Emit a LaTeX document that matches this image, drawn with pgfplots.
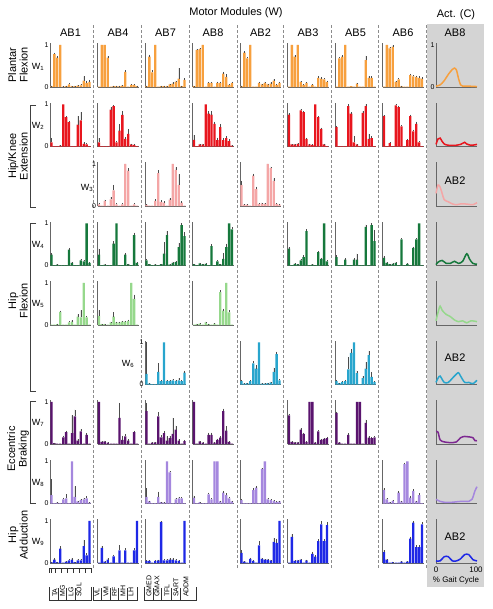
\documentclass[border=0pt]{standalone}
\usepackage{fontspec}
\setmainfont{Liberation Sans}
\setsansfont{Liberation Sans}
\usepackage{pgfplots}
\pgfplotsset{compat=1.18}
\definecolor{cA}{RGB}{247,160,62}
\definecolor{cB}{RGB}{232,22,30}
\definecolor{cC}{RGB}{244,166,166}
\definecolor{cD}{RGB}{22,120,60}
\definecolor{cE}{RGB}{150,216,140}
\definecolor{cF}{RGB}{40,165,205}
\definecolor{cG}{RGB}{90,20,110}
\definecolor{cGl}{RGB}{125,40,145}
\definecolor{cH}{RGB}{165,135,222}
\definecolor{cI}{RGB}{30,40,230}
\definecolor{panel}{RGB}{212,212,212}
\pgfplotsset{
  barax/.style={scale only axis, width=41bp, height=43.7bp, xmin=-0.5, xmax=13.5, ymin=0, ymax=1.04,
    axis x line*=bottom, axis y line*=left, axis line style={line width=0.5pt, black!60},
    xtick=\empty, ytick=\empty, clip=false, anchor=south west},
  actax/.style={scale only axis, width=41bp, height=43.7bp, xmin=0, xmax=100, ymin=0, ymax=1.04,
    axis x line*=bottom, axis y line*=left, axis line style={line width=0.5pt, black!60},
    xtick=\empty, ytick=\empty, clip=false, anchor=south west},
  first/.style={ytick={0,1}, major tick length=0pt, /pgf/number format/assume math mode=true,
    yticklabel style={font=\fontsize{7}{7}\selectfont, inner sep=1.2pt}},
}
\newcommand{\B}[5][]{%
  \begin{axis}[barax, at={({(50+47.5*#2)*1bp},{-(87+59.5*#3)*1bp})}, #1]
    \addplot[ybar, bar width=0.8, fill=#4, draw=none,
      error bars/.cd, y dir=plus, y explicit, error bar style={line width=0.35pt, black!70}, error mark=none]
      table[row sep=\\, header=false, x expr=\coordindex, y index=0, y error index=1] {#5};
  \end{axis}}
\newcommand{\A}[4][]{%
  \begin{axis}[actax, at={({436*1bp},{-(87+59.5*#2)*1bp})}, #1]
    \addplot[#3, line width=1.5bp, smooth, tension=0.5] coordinates {#4};
  \end{axis}}
\begin{document}
\begin{tikzpicture}
\path[use as bounding box] (0,0) rectangle (493bp,-609bp);
\begin{scope}[x=1bp,y=-1bp]
\fill[panel] (427,24) rectangle (484,587);
\foreach \xx in {93,141,189,237,283,331,378,426}
  \draw[black!45, line width=0.45pt, dash pattern=on 2.5bp off 2.5bp] (\xx,25) -- (\xx,568);
\end{scope}
% ---------- W1 ----------
\B[first]{0}{0}{cA}{0.02 0.01\\0.78 0.03\\0.70 0.03\\1.0 0\\0.01 0.01\\0.02 0.01\\0.06 0.04\\0.02 0.01\\0.02 0.01\\0.03 0.02\\0.04 0.02\\0.15 0.1\\0.10 0.05\\0.12 0.05\\}
\B{1}{0}{cA}{0.01 0\\1.0 0\\1.0 0\\0.70 0.03\\0.01 0\\0.02 0.01\\0.02 0.01\\0.02 0.01\\0.03 0.01\\0.36 0.04\\0.01 0\\0.05 0.02\\0.05 0.02\\0.02 0.01\\}
\B{2}{0}{cA}{0.02 0.01\\0.72 0.05\\0.35 0.05\\1.0 0\\0.01 0\\0.02 0.01\\0.02 0.01\\0.02 0.01\\0.06 0.02\\0.08 0.03\\0.12 0.03\\0.20 0.25\\0.02 0.01\\0.17 0.04\\}
\B{3}{0}{cA}{0.02 0.01\\0.88 0.03\\0.90 0.03\\1.0 0\\0.01 0\\0.10 0.02\\0.10 0.02\\0.01 0\\0.10 0.03\\0.10 0.03\\0.32 0.04\\0.24 0.06\\0.05 0.02\\0.10 0.03\\}
\B{4}{0}{cA}{0.02 0.01\\0.82 0.03\\0.68 0.03\\1.0 0\\0.01 0\\0.01 0\\0.10 0.03\\0.06 0.02\\0.10 0.03\\0.06 0.02\\0.08 0.03\\0.15 0.04\\0.05 0.02\\0.10 0.03\\}
\B{5}{0}{cA}{0.01 0\\1.0 0\\0.72 0.03\\1.0 0\\0.12 0.02\\0.05 0.02\\0.10 0.02\\0.01 0\\0.05 0.02\\0.01 0\\0.22 0.03\\0.20 0.03\\0.18 0.03\\0.12 0.03\\}
\B{6}{0}{cA}{0.01 0\\0.68 0.03\\0.72 0.03\\1.0 0\\0.01 0\\0.02 0\\0.01 0\\0.08 0.02\\0.01 0\\0.01 0\\0.64 0.1\\0.22 0.03\\0.22 0.03\\0.01 0\\}
\B{7}{0}{cA}{0.01 0\\1.0 0\\0.92 0.03\\0.96 0.03\\0.12 0.02\\0.18 0.03\\0.02 0.01\\0.01 0\\0.01 0\\0.28 0.03\\0.25 0.03\\0.24 0.03\\0.22 0.03\\0.20 0.03\\}
% ---------- W2 ----------
\B[first]{0}{1}{cB}{0.10 0.1\\0.01 0\\0.01 0\\0.02 0.01\\1.0 0\\0.70 0.03\\0.58 0.03\\0.01 0\\0.01 0\\0.52 0.2\\0.62 0.2\\0.06 0.04\\0.05 0.03\\0.01 0\\}
\B{1}{1}{cB}{0.10 0.1\\0.01 0\\0.01 0\\0.01 0\\0.88 0.05\\0.96 0.03\\0.10 0.03\\0.38 0.15\\0.75 0.1\\0.18 0.05\\0.30 0.12\\0.05 0.02\\0.04 0.02\\0.01 0\\}
\B{3}{1}{cB}{0.16 0.11\\0.01 0\\0.05 0.02\\0.05 0.02\\1.0 0\\0.78 0.06\\0.76 0.08\\0.54 0.05\\0.15 0.06\\0.46 0.08\\0.15 0.05\\0.20 0.04\\0.13 0.04\\0.02 0.01\\}
\B{5}{1}{cB}{0.76 0.03\\0.05 0.01\\0.05 0.01\\0.06 0.02\\0.86 0.03\\0.82 0.03\\0.18 0.03\\0.05 0.01\\0.04 0.01\\1.0 0\\0.70 0.03\\0.42 0.03\\0.05 0.02\\0.01 0\\}
\B{6}{1}{cB}{0.46 0.03\\0.01 0\\0.01 0\\0.01 0\\0.96 0.04\\0.78 0.04\\0.10 0.15\\0.05 0.02\\0.01 0\\0.80 0.04\\0.96 0.04\\0.18 0.12\\0.20 0.04\\0.01 0\\}
\B{7}{1}{cB}{0.72 0.03\\0.01 0\\0.08 0.02\\0.01 0\\0.98 0.02\\0.94 0.03\\0.48 0.03\\0.01 0\\0.15 0.03\\0.72 0.04\\0.36 0.04\\0.54 0.05\\0.10 0.03\\0.01 0\\}
% ---------- W3 ----------
\B[first]{1}{2}{cC}{0.04 0.02\\0.01 0\\0.12 0.03\\0.01 0\\0.16 0.05\\0.37 0.13\\0.04 0.02\\0.01 0\\0.04 0.02\\1.0 0\\0.84 0.06\\0.01 0\\0.04 0.02\\0.01 0\\}
\B{2}{2}{cC}{0.03 0.01\\0.01 0\\0.01 0\\0.12 0.04\\0.78 0.07\\0.10 0.04\\0.08 0.03\\0.01 0\\0.15 0.03\\1.0 0\\0.86 0.06\\0.50 0.25\\0.08 0.03\\0.01 0\\}
\B{4}{2}{cC}{0.50 0.1\\0.03 0.01\\0.03 0.01\\0.01 0\\0.72 0.05\\0.40 0.06\\0.05 0.02\\0.06 0.02\\0.05 0.02\\1.0 0\\0.90 0.04\\0.60 0.06\\0.05 0.02\\0.03 0.01\\}
% ---------- W4 ----------
\B[first]{0}{3}{cD}{0.26 0.03\\0.01 0\\0.02 0.01\\0.01 0\\0.01 0\\0.01 0\\0.38 0.04\\0.06 0.02\\0.01 0\\0.01 0\\0.12 0.03\\0.10 0.03\\1.0 0\\0.06 0.02\\}
\B{1}{3}{cD}{0.26 0.14\\0.01 0\\0.02 0.01\\0.01 0\\0.01 0\\0.52 0.06\\1.0 0\\0.01 0\\0.01 0\\0.26 0.04\\0.03 0.01\\0.01 0\\0.72 0.06\\0.06 0.02\\}
\B{2}{3}{cD}{0.12 0.04\\0.03 0.01\\0.01 0\\0.02 0.01\\0.01 0\\0.03 0.01\\0.28 0.27\\0.72 0.1\\0.02 0.01\\0.06 0.03\\0.08 0.03\\0.44 0.1\\0.96 0.04\\0.70 0.1\\}
\B{3}{3}{cD}{0.03 0.01\\0.01 0\\0.05 0.02\\0.03 0.01\\0.04 0.01\\0.01 0\\0.46 0.05\\0.01 0\\0.10 0.03\\0.03 0.01\\0.16 0.14\\0.44 0.08\\1.0 0\\0.86 0.05\\}
\B{5}{3}{cD}{0.40 0.03\\0.01 0\\0.04 0.01\\0.03 0.01\\0.12 0.03\\0.20 0.04\\0.82 0.04\\0.01 0\\0.02 0.01\\0.01 0\\0.32 0.03\\0.16 0.03\\1.0 0\\0.10 0.03\\}
\B{6}{3}{cD}{0.20 0.04\\0.01 0\\0.01 0\\0.14 0.03\\0.01 0\\0.01 0\\0.14 0.03\\0.14 0.14\\0.01 0\\0.01 0\\0.92 0.05\\0.01 0\\0.96 0.04\\0.58 0.27\\}
\B{7}{3}{cD}{0.18 0.04\\0.06 0.02\\0.03 0.01\\0.04 0.01\\0.06 0.02\\0.01 0\\0.62 0.03\\0.01 0\\0.04 0.01\\0.01 0\\0.42 0.03\\0.62 0.03\\1.0 0\\0.01 0\\}
% ---------- W5 ----------
\B[first]{0}{4}{cE}{0.01 0\\0.01 0\\0.02 0.01\\0.31 0.03\\0.01 0\\0.01 0\\0.06 0.03\\0.08 0.03\\0.01 0\\0.20 0.05\\0.18 0.17\\1.0 0\\0.18 0.04\\0.01 0\\}
\B{1}{4}{cE}{0.22 0.13\\0.02 0.01\\0.02 0.01\\0.01 0\\0.06 0.02\\0.20 0.1\\0.06 0.02\\0.06 0.02\\0.08 0.02\\0.08 0.02\\0.10 0.03\\1.0 0\\0.62 0.1\\0.01 0\\}
\B{3}{4}{cE}{0.01 0\\0.02 0.01\\0.03 0.01\\0.01 0\\0.06 0.02\\0.02 0.01\\0.01 0\\0.03 0.01\\0.01 0\\0.78 0.05\\0.34 0.05\\1.0 0\\0.30 0.05\\0.01 0\\}
% ---------- W6 ----------
\B[first]{2}{5}{cF}{0.25 0.75\\0.02 0.01\\0.01 0\\0.01 0\\0.30 0.2\\0.08 0.03\\1.0 0\\0.08 0.03\\0.08 0.03\\0.10 0.03\\0.08 0.03\\0.10 0.05\\0.08 0.03\\0.28 0.05\\}
\B{4}{5}{cF}{0.08 0.03\\0.02 0.01\\0.03 0.01\\0.08 0.02\\0.50 0.06\\0.38 0.08\\1.0 0\\0.02 0.01\\0.02 0.01\\0.03 0.01\\0.05 0.02\\0.30 0.1\\0.72 0.06\\0.10 0.03\\}
\B{6}{5}{cF}{0.08 0.03\\0.03 0.01\\0.06 0.02\\0.08 0.03\\0.36 0.3\\0.75 0.1\\1.0 0\\0.27 0.06\\0.01 0\\0.15 0.05\\0.38 0.15\\0.70 0.1\\0.18 0.12\\0.06 0.02\\}
% ---------- W7 ----------
\B[first]{0}{6}{cG}{1.0 0\\0.02 0.01\\0.01 0\\0.01 0\\0.16 0.04\\0.28 0.04\\0.01 0\\0.26 0.42\\0.66 0.16\\0.08 0.04\\0.30 0.05\\0.01 0\\0.22 0.04\\0.01 0\\}
\B{1}{6}{cG}{1.0 0\\0.05 0.02\\0.06 0.02\\0.03 0.01\\0.01 0\\0.01 0\\0.01 0\\0.62 0.36\\0.10 0.1\\0.18 0.05\\0.08 0.03\\0.01 0\\0.28 0.04\\0.01 0\\}
\B{2}{6}{cG}{0.78 0.2\\0.01 0\\0.03 0.01\\0.04 0.01\\0.66 0.1\\0.16 0.05\\0.26 0.05\\0.08 0.1\\0.14 0.05\\0.24 0.38\\0.34 0.1\\0.08 0.04\\0.01 0\\0.07 0.03\\}
\B{3}{6}{cG}{1.0 0\\0.01 0\\0.06 0.02\\0.03 0.01\\0.01 0\\0.22 0.05\\0.22 0.05\\0.03 0.01\\0.10 0.03\\0.15 0.04\\0.78 0.06\\0.32 0.1\\0.05 0.02\\0.01 0\\}
\B{5}{6}{cG}{0.68 0.03\\0.05 0.01\\0.04 0.01\\0.04 0.01\\0.34 0.03\\0.24 0.03\\0.05 0.01\\1.0 0\\1.0 0\\0.03 0.01\\0.30 0.03\\0.10 0.02\\0.12 0.02\\0.14 0.03\\}
\B{6}{6}{cG}{0.74 0.03\\0.03 0.01\\0.01 0\\0.01 0\\0.22 0.03\\0.01 0\\0.01 0\\1.0 0\\1.0 0\\0.01 0\\0.50 0.08\\0.15 0.03\\0.14 0.03\\0.16 0.03\\}
% ---------- W8 ----------
\B[first]{0}{7}{cH}{0.20 0.38\\0.01 0\\0.02 0.01\\0.01 0\\0.10 0.04\\0.12 0.1\\0.01 0\\1.0 0\\0.16 0.25\\0.05 0.02\\0.08 0.03\\0.10 0.04\\0.12 0.05\\0.02 0.01\\}
\B{2}{7}{cH}{0.16 0.2\\0.05 0.02\\0.01 0\\0.01 0\\0.16 0.12\\0.03 0.01\\0.02 0.01\\1.0 0\\0.74 0.04\\0.01 0\\0.10 0.03\\0.12 0.03\\0.12 0.03\\0.01 0\\}
\B{3}{7}{cH}{0.14 0.05\\0.01 0\\0.03 0.01\\0.01 0\\0.01 0\\0.22 0.04\\0.10 0.03\\1.0 0\\1.0 0\\0.05 0.02\\0.26 0.04\\0.20 0.04\\0.12 0.04\\0.05 0.02\\}
\B{4}{7}{cH}{0.08 0.03\\0.01 0\\0.01 0\\0.01 0\\0.32 0.04\\0.38 0.04\\0.01 0\\0.82 0.03\\1.0 0\\0.10 0.03\\0.08 0.02\\0.06 0.02\\0.04 0.01\\0.05 0.01\\}
\B{7}{7}{cH}{0.32 0.04\\0.10 0.03\\0.03 0.01\\0.06 0.02\\0.01 0\\0.26 0.04\\0.05 0.02\\0.94 0.03\\1.0 0\\0.14 0.05\\0.30 0.04\\0.05 0.02\\0.20 0.04\\0.01 0\\}
% ---------- W9 ----------
\B[first]{0}{8}{cI}{0.02 0.01\\0.08 0.04\\0.02 0.01\\0.34 0.06\\0.01 0\\0.03 0.01\\0.06 0.03\\0.08 0.04\\0.02 0.01\\0.06 0.03\\0.06 0.03\\0.40 0.15\\0.18 0.05\\1.0 0\\}
\B{1}{8}{cI}{0.01 0\\0.36 0.04\\0.03 0.01\\0.08 0.03\\0.01 0\\0.16 0.04\\0.01 0\\0.30 0.12\\0.01 0\\0.30 0.05\\0.01 0\\0.01 0\\0.30 0.05\\1.0 0\\}
\B{2}{8}{cI}{0.05 0.02\\0.05 0.02\\0.01 0\\0.05 0.02\\0.06 0.02\\0.98 0.02\\0.06 0.03\\0.06 0.03\\0.08 0.03\\0.08 0.03\\0.06 0.03\\0.05 0.02\\0.01 0\\1.0 0\\}
\B{4}{8}{cI}{0.24 0.06\\0.03 0.01\\0.01 0\\0.10 0.03\\0.05 0.02\\0.01 0\\0.42 0.1\\0.10 0.03\\0.08 0.02\\0.08 0.02\\0.06 0.02\\0.50 0.1\\0.48 0.1\\1.0 0\\}
\B{5}{8}{cI}{0.01 0\\0.62 0.06\\0.05 0.01\\0.06 0.02\\0.08 0.02\\0.01 0\\0.06 0.02\\0.01 0\\0.22 0.05\\0.15 0.04\\0.52 0.04\\0.92 0.08\\0.52 0.04\\0.90 0.08\\}
\B{7}{8}{cI}{0.26 0.04\\0.08 0.02\\0.01 0\\0.02 0.01\\0.01 0\\0.01 0\\0.03 0.01\\0.01 0\\0.03 0.01\\0.58 0.05\\0.96 0.04\\0.38 0.04\\0.38 0.04\\0.92 0.06\\}
% ---------- activations ----------
\A[first]{0}{cA}{(0,0.02) (10,0.05) (20,0.15) (30,0.3) (40,0.42) (45,0.45) (50,0.4) (55,0.2) (60,0.05) (65,0.02) (80,0.02) (100,0.01)}
\A{1}{cB}{(0,0.05) (5,0.18) (10,0.2) (15,0.12) (20,0.06) (30,0.03) (50,0.03) (60,0.05) (70,0.1) (75,0.06) (85,0.03) (95,0.04) (100,0.05)}
\A{2}{cC}{(0,0.3) (5,0.5) (10,0.45) (15,0.3) (20,0.15) (30,0.1) (40,0.05) (50,0.03) (60,0.05) (70,0.05) (80,0.04) (90,0.03) (100,0.08)}
\A{3}{cD}{(0,0.02) (5,0.08) (15,0.12) (25,0.05) (35,0.05) (45,0.1) (55,0.05) (65,0.1) (75,0.28) (82,0.15) (90,0.05) (100,0.03)}
\A{4}{cE}{(0,0.1) (5,0.3) (10,0.45) (15,0.35) (25,0.25) (35,0.2) (45,0.12) (55,0.08) (65,0.1) (75,0.05) (85,0.1) (100,0.08)}
\A{5}{cF}{(0,0.05) (5,0.15) (10,0.2) (20,0.05) (30,0.05) (40,0.15) (50,0.25) (55,0.28) (60,0.2) (70,0.05) (80,0.05) (90,0.02) (100,0.1)}
\A{6}{cGl}{(0,0.3) (5,0.28) (10,0.1) (20,0.05) (40,0.03) (50,0.05) (60,0.15) (70,0.18) (80,0.17) (90,0.15) (95,0.08) (100,0.08)}
\A{7}{cH}{(0,0.1) (10,0.05) (20,0.03) (40,0.03) (60,0.05) (80,0.05) (88,0.1) (95,0.3) (100,0.4)}
\A{8}{cI}{(0,0.05) (10,0.05) (20,0.15) (30,0.15) (40,0.05) (50,0.05) (60,0.1) (70,0.2) (80,0.2) (90,0.08) (100,0.05)}
% ---------- text ----------
\begin{scope}[x=1bp,y=-1bp, every node/.style={font=\fontsize{11}{12}\selectfont, inner sep=0pt}]
\node at (236,13) {Motor Modules (W)};
\node at (456,15) {Act. (C)};
\foreach \xx/\nm in {70.5/AB1,118/AB4,165.5/AB7,213/AB8,260.5/AB2,308/AB3,355.5/AB5,403/AB6}
  \node at (\xx,33) {\nm};
\node at (455,33) {AB8};
\node at (455,181) {AB2};
\node at (455,358) {AB2};
\node at (455,537) {AB2};
\node[font=\fontsize{8}{9}\selectfont] at (436,570) {0};
\node[font=\fontsize{8}{9}\selectfont] at (476,570) {100};
\node[font=\fontsize{8}{9}\selectfont] at (456,580) {\% Gait Cycle};
\node[rotate=90, align=center, font=\fontsize{11}{11.5}\selectfont] at (18,65) {Plantar\\Flexion};
\node[rotate=90, align=center, font=\fontsize{11}{11.5}\selectfont] at (18,156) {Hip/Knee\\Extension};
\node[rotate=90, align=center, font=\fontsize{11}{11.5}\selectfont] at (18,301) {Hip\\Flexion};
\node[rotate=90, align=center, font=\fontsize{11}{11.5}\selectfont] at (18,449) {Eccentric\\Braking};
\node[rotate=90, align=center, font=\fontsize{11}{11.5}\selectfont] at (18,535) {Hip\\Adduction};
\draw[black!75, line width=0.6pt] (36,105) -- (30,105) -- (30,207) -- (36,207);
\draw[black!75, line width=0.6pt] (36,223) -- (30,223) -- (30,391) -- (36,391);
\draw[black!75, line width=0.6pt] (36,401) -- (30,401) -- (30,503) -- (36,503);
\foreach \xx/\yy/\k in {38/67/1,38/126/2,87/188/3,38/245/4,38/304/5,128/364/6,38/423/7,38/483/8,38/542/9}
  \node[font=\fontsize{9}{10}\selectfont] at (\xx,\yy) {W\textsubscript{\k}};
% muscle legend
\foreach \xx/\nm in {55/TA,62.5/MG,71/LG,79/SOL,97/VL,106/VM,114.5/RF,123/MH,131/LH,149/GMED,157/GMAX,167/TFL,176/SART,186/ADDM}
  \node[rotate=90, anchor=west, font=\fontsize{7}{8}\selectfont] at (\xx,597) {\nm};
\draw[black!80, line width=0.45pt] (49,587)--(49,600)--(91,600)--(91,587);
\foreach \xx in {58.5,66.5,75} \draw[black!80, line width=0.45pt] (\xx,588)--(\xx,600);
\draw[black!80, line width=0.45pt] (93,587)--(93,600)--(137,600)--(137,587);
\foreach \xx in {101.5,110,118.5,127} \draw[black!80, line width=0.45pt] (\xx,588)--(\xx,600);
\draw[black!80, line width=0.45pt] (144,587)--(144,600)--(196,600)--(196,587);
\foreach \xx in {153,161.5,171,180.5} \draw[black!80, line width=0.45pt] (\xx,588)--(\xx,600);
\draw[black!80, line width=0.45pt] (49,568)--(91,568);
\foreach \xx in {49,51.5,55,61,67,73,79,85,91} \draw[black!80, line width=0.45pt] (\xx,568)--(\xx,573);
\end{scope}
\end{tikzpicture}
\end{document}
